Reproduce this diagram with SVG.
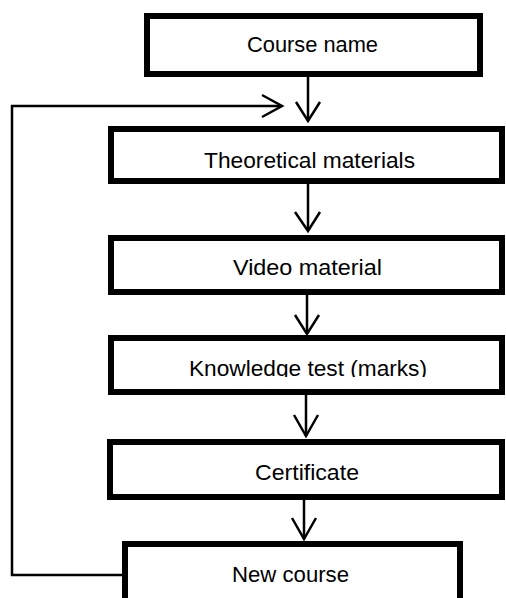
<svg xmlns="http://www.w3.org/2000/svg" width="506" height="598" viewBox="0 0 506 598">
<style>
.box{fill:#fff;stroke:#000;stroke-width:6}
.lbl{font-family:"Liberation Sans",Arial,sans-serif;font-size:22px;fill:#000}
.con{fill:none;stroke:#000;stroke-width:2.5}
.head{fill:none;stroke:#000;stroke-width:2.5;stroke-linejoin:miter}
</style>
<defs>
<clipPath id="clipK"><rect x="108" y="338" width="398" height="39"/></clipPath>
</defs>
<rect width="506" height="598" fill="#fff"/>
<g id="connectors">
<path class="con" d="M308,77 V121"/>
<path class="head" d="M296,102 L308,121 L320,102"/>
<path class="con" d="M308,184 V231"/>
<path class="head" d="M295,212 L308,231 L320,212"/>
<path class="con" d="M307,295 V334"/>
<path class="head" d="M295,315 L307,334 L319,315"/>
<path class="con" d="M306,395 V436"/>
<path class="head" d="M294,415 L306,436 L318,415"/>
<path class="con" d="M304,500 V539"/>
<path class="head" d="M292,518 L304,539 L316,518"/>
<path class="con" d="M123,575 H12 V106 H282"/>
<path class="head" d="M262,95 L282,106 L262,117"/>
</g>
<g id="n1">
<rect class="box" x="147" y="16" width="333" height="58"/>
<text class="lbl" x="247" y="52" textLength="131" lengthAdjust="spacingAndGlyphs">Course name</text>
</g>
<g id="n2">
<rect class="box" x="111" y="129" width="391" height="52"/>
<text class="lbl" x="204" y="168" textLength="211" lengthAdjust="spacingAndGlyphs">Theoretical materials</text>
</g>
<g id="n3">
<rect class="box" x="111" y="238" width="391" height="54"/>
<text class="lbl" x="233" y="275" textLength="149" lengthAdjust="spacingAndGlyphs">Video material</text>
</g>
<g id="n4">
<rect class="box" x="111" y="338" width="391" height="54"/>
<text class="lbl" x="189" y="376" textLength="238" lengthAdjust="spacingAndGlyphs" clip-path="url(#clipK)">Knowledge test (marks)</text>
</g>
<g id="n5">
<rect class="box" x="110" y="442" width="392" height="55"/>
<text class="lbl" x="255" y="480" textLength="104" lengthAdjust="spacingAndGlyphs">Certificate</text>
</g>
<g id="n6">
<rect class="box" x="125" y="544" width="335" height="70"/>
<text class="lbl" x="232" y="582" textLength="117" lengthAdjust="spacingAndGlyphs">New course</text>
</g>
</svg>
